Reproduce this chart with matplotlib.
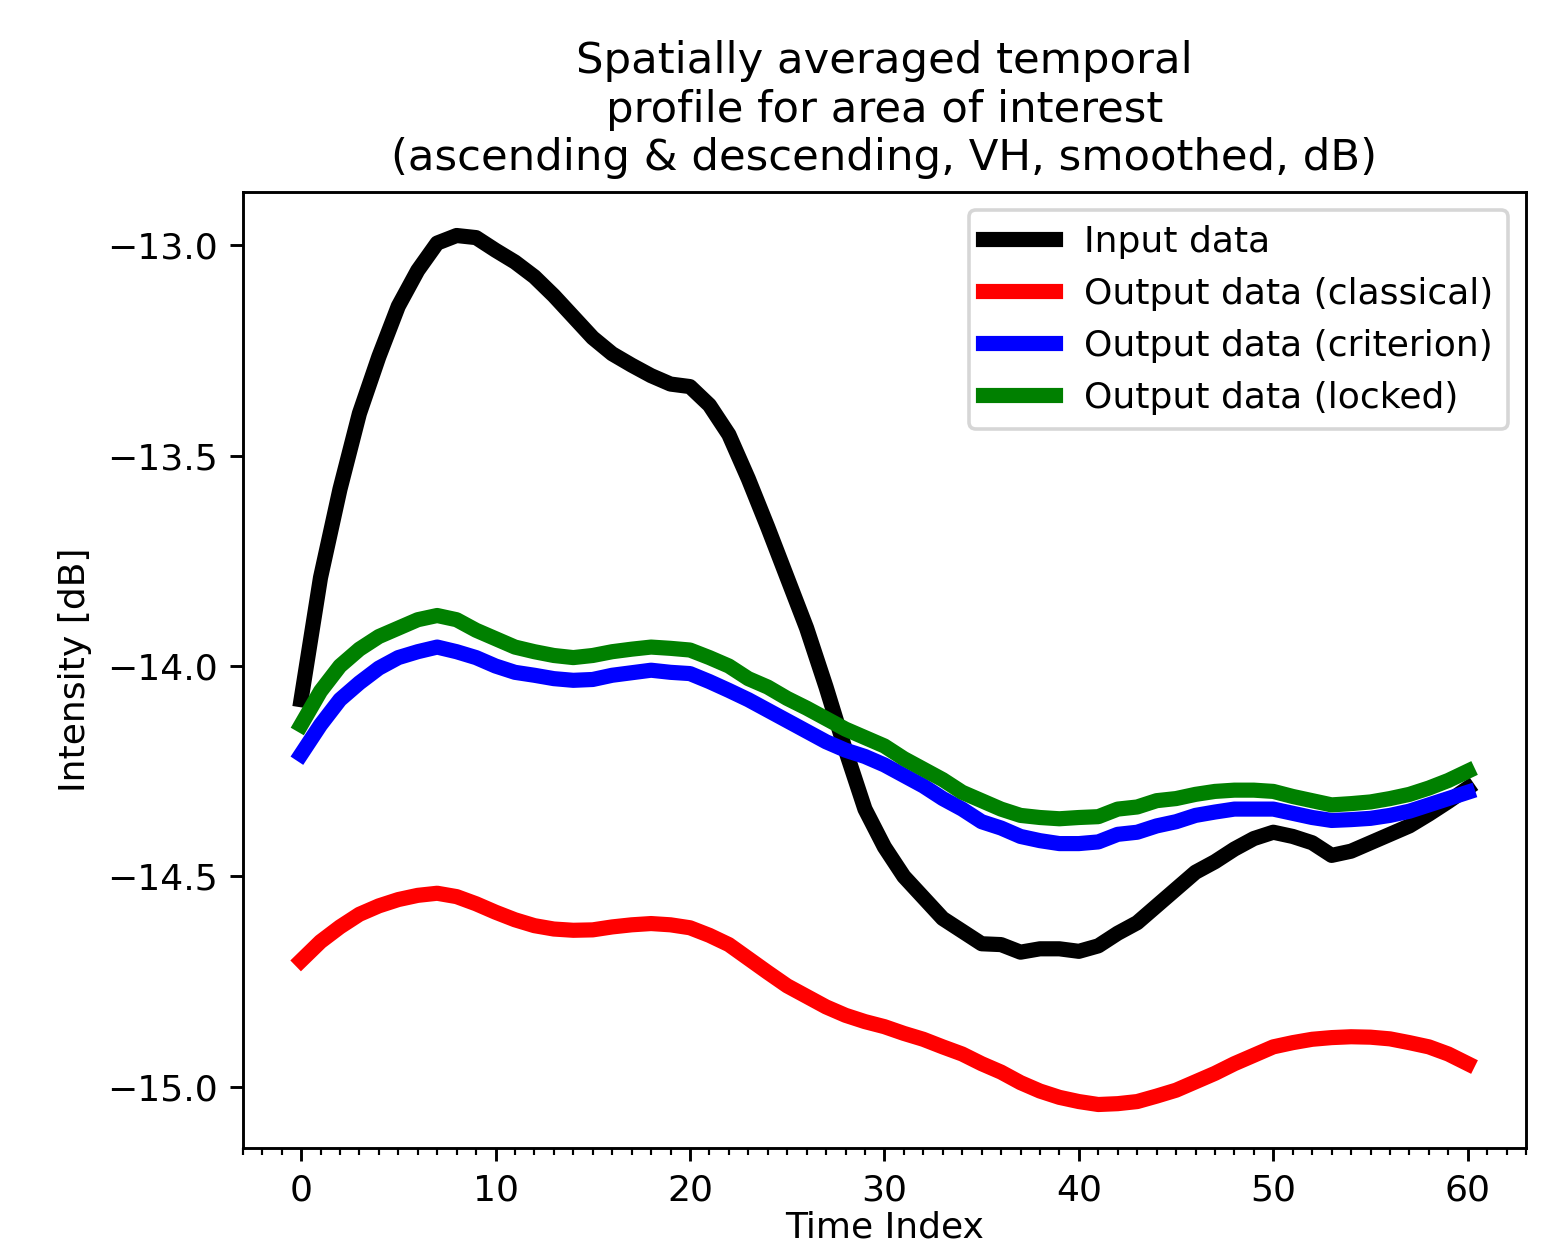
import numpy as np
import matplotlib
matplotlib.use("Agg")
import matplotlib.pyplot as plt
from matplotlib.ticker import MultipleLocator

# time index 0..60
t = np.arange(61)

input_data = [
    -14.08, -13.79, -13.58, -13.40, -13.265, -13.145, -13.06, -12.995, -12.977, -12.982,
    -13.012, -13.04, -13.075, -13.12, -13.17, -13.22, -13.258, -13.285, -13.31, -13.33,
    -13.336, -13.38, -13.45, -13.555, -13.67, -13.79, -13.91, -14.05, -14.2, -14.34,
    -14.43, -14.5, -14.55, -14.6, -14.63, -14.66, -14.662, -14.68, -14.672, -14.672,
    -14.678, -14.665, -14.635, -14.61, -14.57, -14.53, -14.49, -14.465, -14.435, -14.41,
    -14.395, -14.405, -14.42, -14.45, -14.44, -14.42, -14.40, -14.38, -14.352, -14.322,
    -14.29]

classical = [
    -14.70, -14.655, -14.62, -14.59, -14.57, -14.555, -14.545, -14.54, -14.548, -14.565,
    -14.585, -14.603, -14.617, -14.625, -14.628, -14.627, -14.62, -14.615, -14.612, -14.615,
    -14.622, -14.64, -14.662, -14.695, -14.728, -14.76, -14.785, -14.81, -14.83, -14.845,
    -14.857, -14.873, -14.887, -14.905, -14.922, -14.945, -14.965, -14.99, -15.01, -15.025,
    -15.035, -15.042, -15.04, -15.035, -15.022, -15.008, -14.988, -14.968, -14.945, -14.925,
    -14.905, -14.895, -14.887, -14.883, -14.881, -14.882, -14.886, -14.895, -14.905, -14.922,
    -14.945]

criterion = [
    -14.21, -14.14, -14.08, -14.04, -14.005, -13.98, -13.966, -13.955, -13.966, -13.98,
    -14.0, -14.015, -14.022, -14.03, -14.034, -14.032, -14.022, -14.016, -14.01, -14.015,
    -14.018, -14.037, -14.058, -14.08, -14.105, -14.13, -14.155, -14.18, -14.2, -14.215,
    -14.235, -14.26, -14.285, -14.315, -14.34, -14.37, -14.385, -14.405, -14.415, -14.422,
    -14.422, -14.418, -14.40, -14.395, -14.38, -14.37, -14.355, -14.347, -14.34, -14.34,
    -14.34, -14.35, -14.36, -14.367, -14.365, -14.362, -14.355, -14.345, -14.33, -14.315,
    -14.30]

locked = [
    -14.14, -14.06, -14.0, -13.96, -13.93, -13.91, -13.89, -13.88, -13.89, -13.915,
    -13.935, -13.955, -13.966, -13.975, -13.98, -13.975, -13.966, -13.96, -13.955, -13.958,
    -13.962, -13.98, -14.0, -14.03, -14.05, -14.077, -14.1, -14.125, -14.15, -14.17,
    -14.19, -14.22, -14.245, -14.27, -14.3, -14.32, -14.34, -14.355, -14.36, -14.363,
    -14.36, -14.358, -14.34, -14.335, -14.32, -14.315, -14.305, -14.298, -14.295, -14.295,
    -14.298, -14.31, -14.32, -14.33, -14.327, -14.323, -14.315, -14.305, -14.29, -14.272,
    -14.25]

fig = plt.figure(figsize=(1566 / 260, 1252 / 260), dpi=260)
ax = fig.add_axes([0.155, 0.0831, 0.8195, 0.7635])

ax.plot(t, input_data, color='k', lw=4.2, label='Input data')
ax.plot(t, classical, color='r', lw=4.2, label='Output data (classical)')
ax.plot(t, criterion, color='b', lw=4.2, label='Output data (criterion)')
ax.plot(t, locked, color='g', lw=4.2, label='Output data (locked)')

ax.xaxis.set_minor_locator(MultipleLocator(1))
ax.set_xlabel("Time Index", labelpad=1)
ax.set_ylabel("Intensity [dB]")
ax.set_title("Spatially averaged temporal\nprofile for area of interest\n"
             "(ascending & descending, VH, smoothed, dB)")
ax.legend(loc='upper right')

fig.savefig("out.png", dpi=260)
